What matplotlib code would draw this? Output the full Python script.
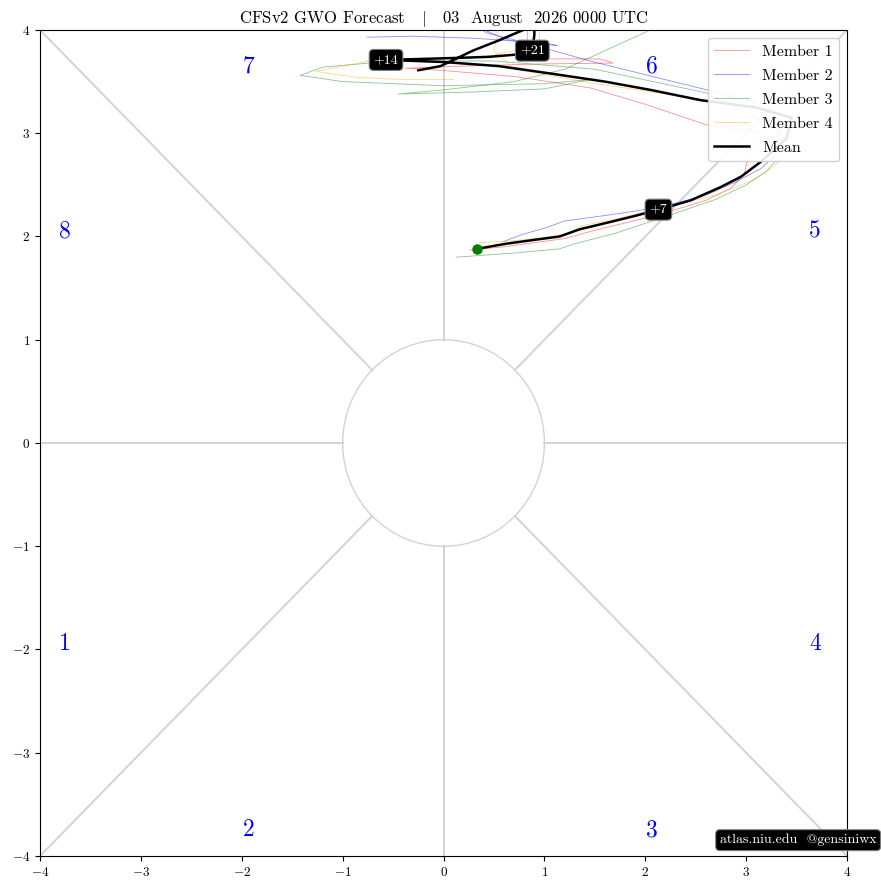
import numpy as np
import matplotlib.pyplot as plt
from matplotlib.patches import Circle

plt.rcParams['font.family'] = 'serif'
plt.rcParams['font.serif'] = ['cmr10']
plt.rcParams['mathtext.fontset'] = 'cm'
plt.rcParams['axes.formatter.use_mathtext'] = True

# ensemble mean trajectory
mean_x = [0.33, 0.62, 0.92, 1.15, 1.35, 1.65, 1.90, 2.13, 2.45, 2.75, 2.95, 3.14, 3.40, 3.45, 3.10,
          2.55, 2.05, 1.60, 1.05, 0.55, 0.00,
          -0.57, -0.20, 0.15, 0.45, 0.70, 0.80, 0.85, 0.88, 0.90, 0.90, 0.79, 0.55, 0.29, -0.03, -0.25]
mean_y = [1.88, 1.93, 1.97, 2.00, 2.07, 2.14, 2.20, 2.26, 2.35, 2.48, 2.58, 2.72, 2.95, 3.15, 3.25,
          3.32, 3.42, 3.50, 3.58, 3.65, 3.69,
          3.71, 3.72, 3.73, 3.74, 3.76, 3.78, 3.79, 3.80, 3.95, 4.15, 4.00, 3.90, 3.80, 3.65, 3.61]
day_labels = {7: '+7', 21: '+14', 28: '+21'}

# ensemble members
m1_x = [0.26, 0.60, 0.90, 1.20, 1.50, 2.13, 2.60, 2.85, 2.98, 3.02, 3.20, 2.61, 2.00, 1.45, 0.70,
        -0.03, -0.38, 0.20, 0.90, 1.68, 1.55, 0.85, 0.83, 0.83]
m1_y = [1.87, 1.90, 1.94, 1.98, 2.06, 2.21, 2.35, 2.47, 2.60, 2.78, 3.00, 3.08, 3.28, 3.44, 3.55,
        3.61, 3.63, 3.65, 3.67, 3.68, 3.72, 3.72, 3.85, 4.10]
m2_x = [0.59, 0.78, 1.00, 1.20, 1.65, 2.13, 2.60, 2.90, 3.15, 3.30, 3.35, 3.10, 2.61, 1.45, 0.80,
        0.43, 0.30, 0.45, 0.65, 1.13, 0.90, 0.30, -0.30, -0.76]
m2_y = [1.95, 2.02, 2.08, 2.15, 2.21, 2.28, 2.40, 2.53, 2.66, 2.80, 3.10, 3.30, 3.42, 3.70, 3.88,
        3.97, 4.05, 3.98, 3.90, 3.85, 3.88, 3.92, 3.94, 3.93]
m3_x = [0.13, 0.70, 1.15, 1.30, 1.70, 2.13, 2.70, 3.00, 3.20, 3.35, 3.30, 2.61, 1.50, 0.50, -0.50,
        -1.20, -1.42, -1.00, 0.00, 1.00, 1.45, 1.00, 0.30, -0.45, 0.00, 0.70, 1.20, 1.60, 2.05, 2.30]
m3_y = [1.80, 1.84, 1.88, 1.93, 2.03, 2.17, 2.36, 2.50, 2.63, 2.80, 3.05, 3.39, 3.62, 3.70, 3.70,
        3.64, 3.56, 3.50, 3.46, 3.48, 3.52, 3.43, 3.40, 3.38, 3.42, 3.50, 3.62, 3.80, 4.00, 4.15]
m4_x = [0.36, 0.70, 1.00, 1.25, 1.35, 1.75, 2.13, 2.70, 3.05, 3.25, 3.40, 3.45, 3.10, 2.61, 1.45,
        0.70, 0.50, 0.55, 0.75, 0.95, 0.95, 0.40, -0.20, -0.73, -1.27, -0.86, -0.40, 0.10]
m4_y = [1.94, 1.96, 1.99, 2.03, 2.10, 2.18, 2.27, 2.40, 2.54, 2.66, 2.80, 3.05, 3.22, 3.32, 3.49,
        3.62, 3.80, 4.05, 4.10, 4.05, 3.85, 3.74, 3.72, 3.70, 3.60, 3.54, 3.52, 3.52]

members = [(m1_x, m1_y, 'red', 'Member 1'),
           (m2_x, m2_y, 'blue', 'Member 2'),
           (m3_x, m3_y, 'green', 'Member 3'),
           (m4_x, m4_y, 'orange', 'Member 4')]

# phase numbers
phase_nums = ['1', '2', '3', '4', '5', '6', '7', '8']
phase_x = [-3.75, -1.93, 2.07, 3.68, 3.68, 2.07, -1.93, -3.75]
phase_y = [-1.95, -3.75, -3.75, -1.95, 2.05, 3.65, 3.65, 2.05]

fig = plt.figure(figsize=(8.81, 8.90), dpi=100)
ax = fig.add_axes([0.0454, 0.0382, 0.9161, 0.9281])
ax.set_xlim(-4, 4)
ax.set_ylim(-4, 4)

# phase diagram background
gc = 'lightgray'
ax.plot([-4, -1], [0, 0], color=gc, lw=1.4, zorder=1)
ax.plot([1, 4], [0, 0], color=gc, lw=1.4, zorder=1)
ax.plot([0, 0], [-4, -1], color=gc, lw=1.4, zorder=1)
ax.plot([0, 0], [1, 4], color=gc, lw=1.4, zorder=1)
d = np.sqrt(0.5)
for sx, sy in [(1, 1), (-1, 1), (1, -1), (-1, -1)]:
    ax.plot([sx * d, sx * 4], [sy * d, sy * 4], color=gc, lw=1.4, zorder=1)
ax.add_patch(Circle((0, 0), 1, fill=False, ec=gc, lw=1.0, zorder=1))

for n, px, py in zip(phase_nums, phase_x, phase_y):
    ax.text(px, py, n, color='blue', fontsize=17, ha='center', va='center', zorder=2)

for mx, my, c, lab in members:
    ax.plot(mx, my, color=c, lw=0.6, alpha=0.45, label=lab, zorder=3)

ax.plot(mean_x, mean_y, color='black', lw=1.8, label='Mean', zorder=4)
ax.plot(mean_x[0], mean_y[0], 'o', color='green', ms=6.5, zorder=5)

for i, lab in day_labels.items():
    ax.text(mean_x[i], mean_y[i], lab, color='white', fontsize=10, ha='center', va='center',
            zorder=6, bbox=dict(boxstyle='round,pad=0.32', fc='black', ec='gray', lw=0.8))

ax.legend(loc='upper right', fontsize=11.5, framealpha=0.9, handlelength=2.2,
          labelspacing=0.62)

ax.set_xticks(range(-4, 5))
ax.set_yticks(range(-4, 5))
ax.tick_params(labelsize=9.5)
ax.set_title('CFSv2 GWO Forecast   $|$   03  August  2026 0000 UTC', fontsize=12, pad=5)

fig.text(0.906, 0.056, 'atlas.niu.edu  @gensiniwx', color='white', fontsize=10,
         ha='center', va='center',
         bbox=dict(boxstyle='round,pad=0.3', fc='black', ec='gray', lw=0.8))

fig.savefig('out.png', dpi=100)
